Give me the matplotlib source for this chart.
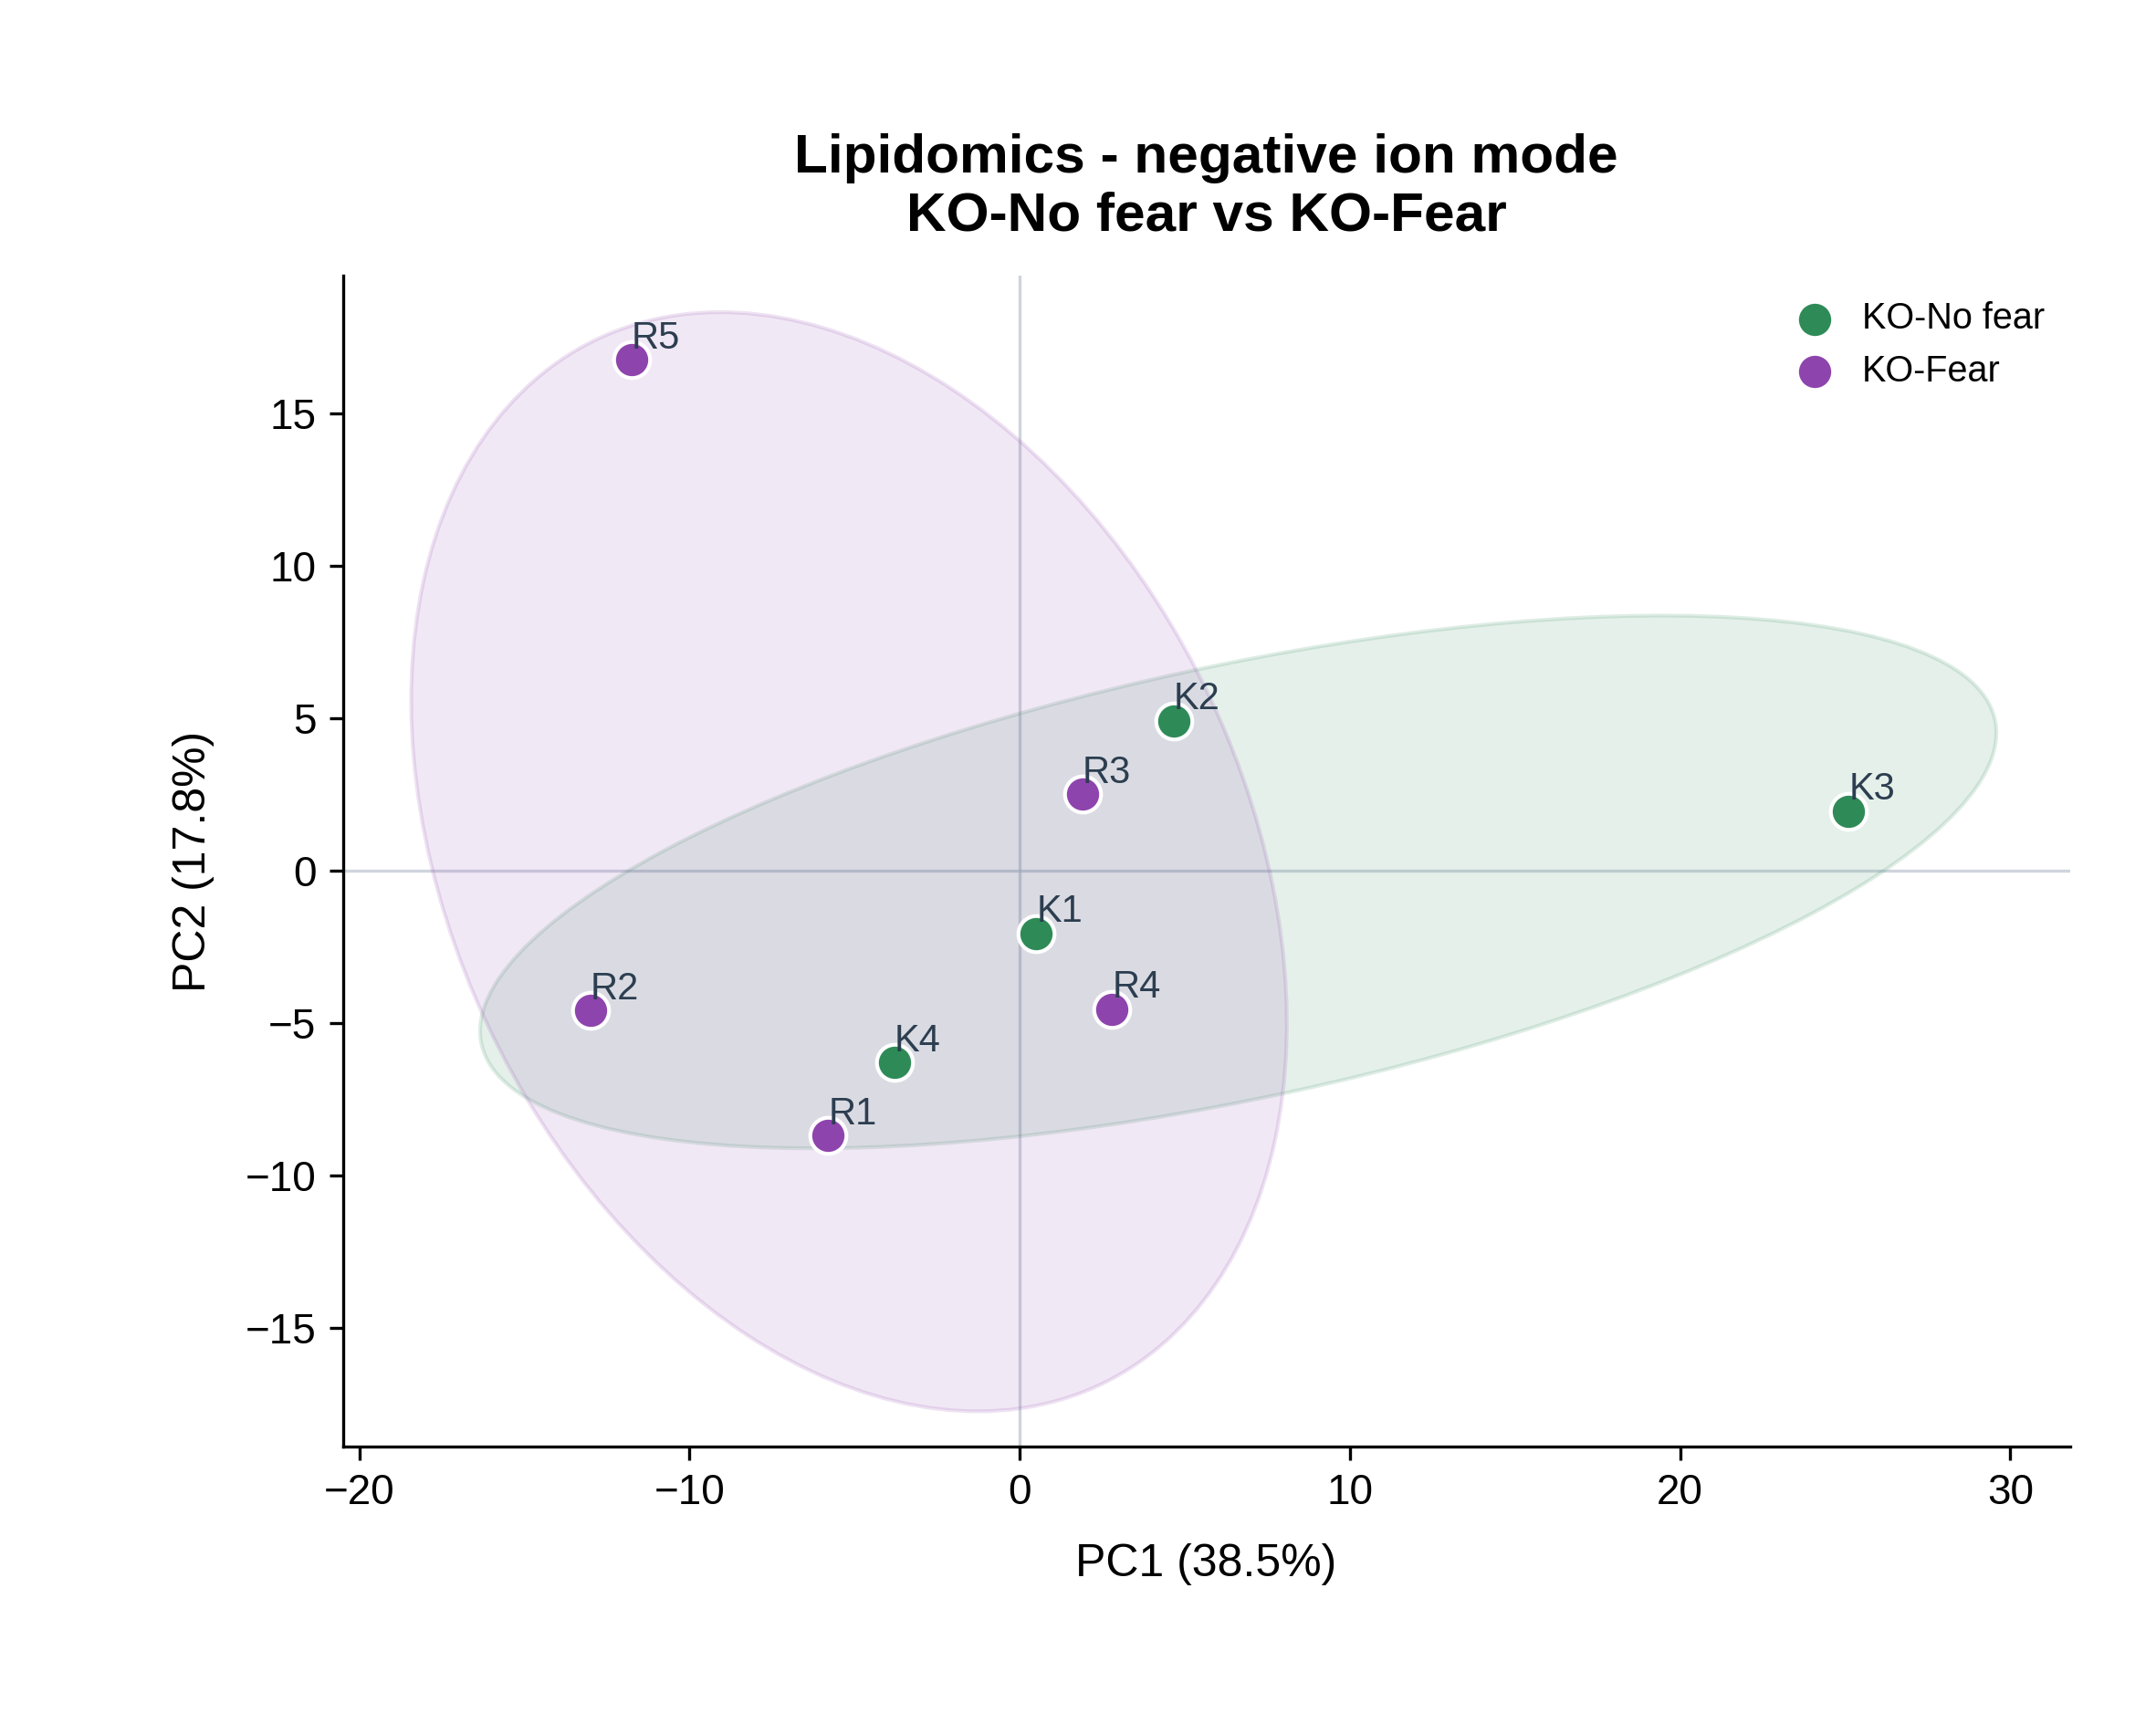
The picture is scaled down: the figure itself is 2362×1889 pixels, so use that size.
import numpy as np
import matplotlib
matplotlib.use("Agg")
import matplotlib.pyplot as plt
from matplotlib.patches import Ellipse

plt.rcParams['font.family'] = ['Liberation Sans', 'DejaVu Sans']

groups = ["KO-No fear", "KO-Fear"]
colors = ["#2e8b57", "#8e44ad"]
labels_nf = ["K1", "K2", "K3", "K4"]
pc1_nf = [0.5, 4.67, 25.1, -3.8]
pc2_nf = [-2.07, 4.9, 1.94, -6.3]
labels_f = ["R1", "R2", "R3", "R4", "R5"]
pc1_f = [-5.8, -13.0, 1.9, 2.8, -11.75]
pc2_f = [-8.7, -4.6, 2.5, -4.55, 16.75]

fig = plt.figure(figsize=(2362/300, 1889/300), dpi=300)
ax = fig.add_axes([0.159, 0.161, 0.801, 0.679])

def conf_ellipse(x, y, color, n_std=1.794):
    x = np.asarray(x); y = np.asarray(y)
    cov = np.cov(x, y)
    vals, vecs = np.linalg.eigh(cov)
    order = vals.argsort()[::-1]
    vals, vecs = vals[order], vecs[:, order]
    ang = np.degrees(np.arctan2(vecs[1, 0], vecs[0, 0]))
    w, h = 2 * n_std * np.sqrt(vals)
    ax.add_patch(Ellipse((x.mean(), y.mean()), w, h, angle=ang,
                         facecolor=color, alpha=0.12, edgecolor='none', zorder=1))
    ax.add_patch(Ellipse((x.mean(), y.mean()), w, h, angle=ang,
                         facecolor='none', edgecolor=color, alpha=0.15, lw=1, zorder=1))

ax.axhline(0, color='#b0b8c8', lw=0.8, alpha=0.6, zorder=0)
ax.axvline(0, color='#b0b8c8', lw=0.8, alpha=0.6, zorder=0)

for xs, ys, labs, c, g in [(pc1_nf, pc2_nf, labels_nf, colors[0], groups[0]),
                            (pc1_f, pc2_f, labels_f, colors[1], groups[1])]:
    conf_ellipse(xs, ys, c)
    ax.scatter(xs, ys, s=90, color=c, edgecolor='white', linewidth=1, zorder=3, label=g)
    for xi, yi, l in zip(xs, ys, labs):
        ax.annotate(l, (xi, yi), xytext=(0, 3), textcoords='offset points',
                    fontsize=10, color='#2c3e50', zorder=4)

ax.set_xlim(-20.5, 31.8)
ax.set_ylim(-18.9, 19.5)
ax.set_xticks([-20, -10, 0, 10, 20, 30])
ax.set_yticks([-15, -10, -5, 0, 5, 10, 15])
ax.tick_params(labelsize=11)
for s in ['top', 'right']:
    ax.spines[s].set_visible(False)
ax.set_xlabel("PC1 (38.5%)", fontsize=12, labelpad=8)
ax.set_ylabel("PC2 (17.8%)", fontsize=12, labelpad=8)
ax.set_title("Lipidomics - negative ion mode\nKO-No fear vs KO-Fear",
             fontsize=14.5, fontweight='bold', pad=12)
ax.legend(loc='upper right', frameon=False, fontsize=9.5, handletextpad=0.3,
          borderaxespad=0.3)
fig.savefig("out.png", dpi=300)
